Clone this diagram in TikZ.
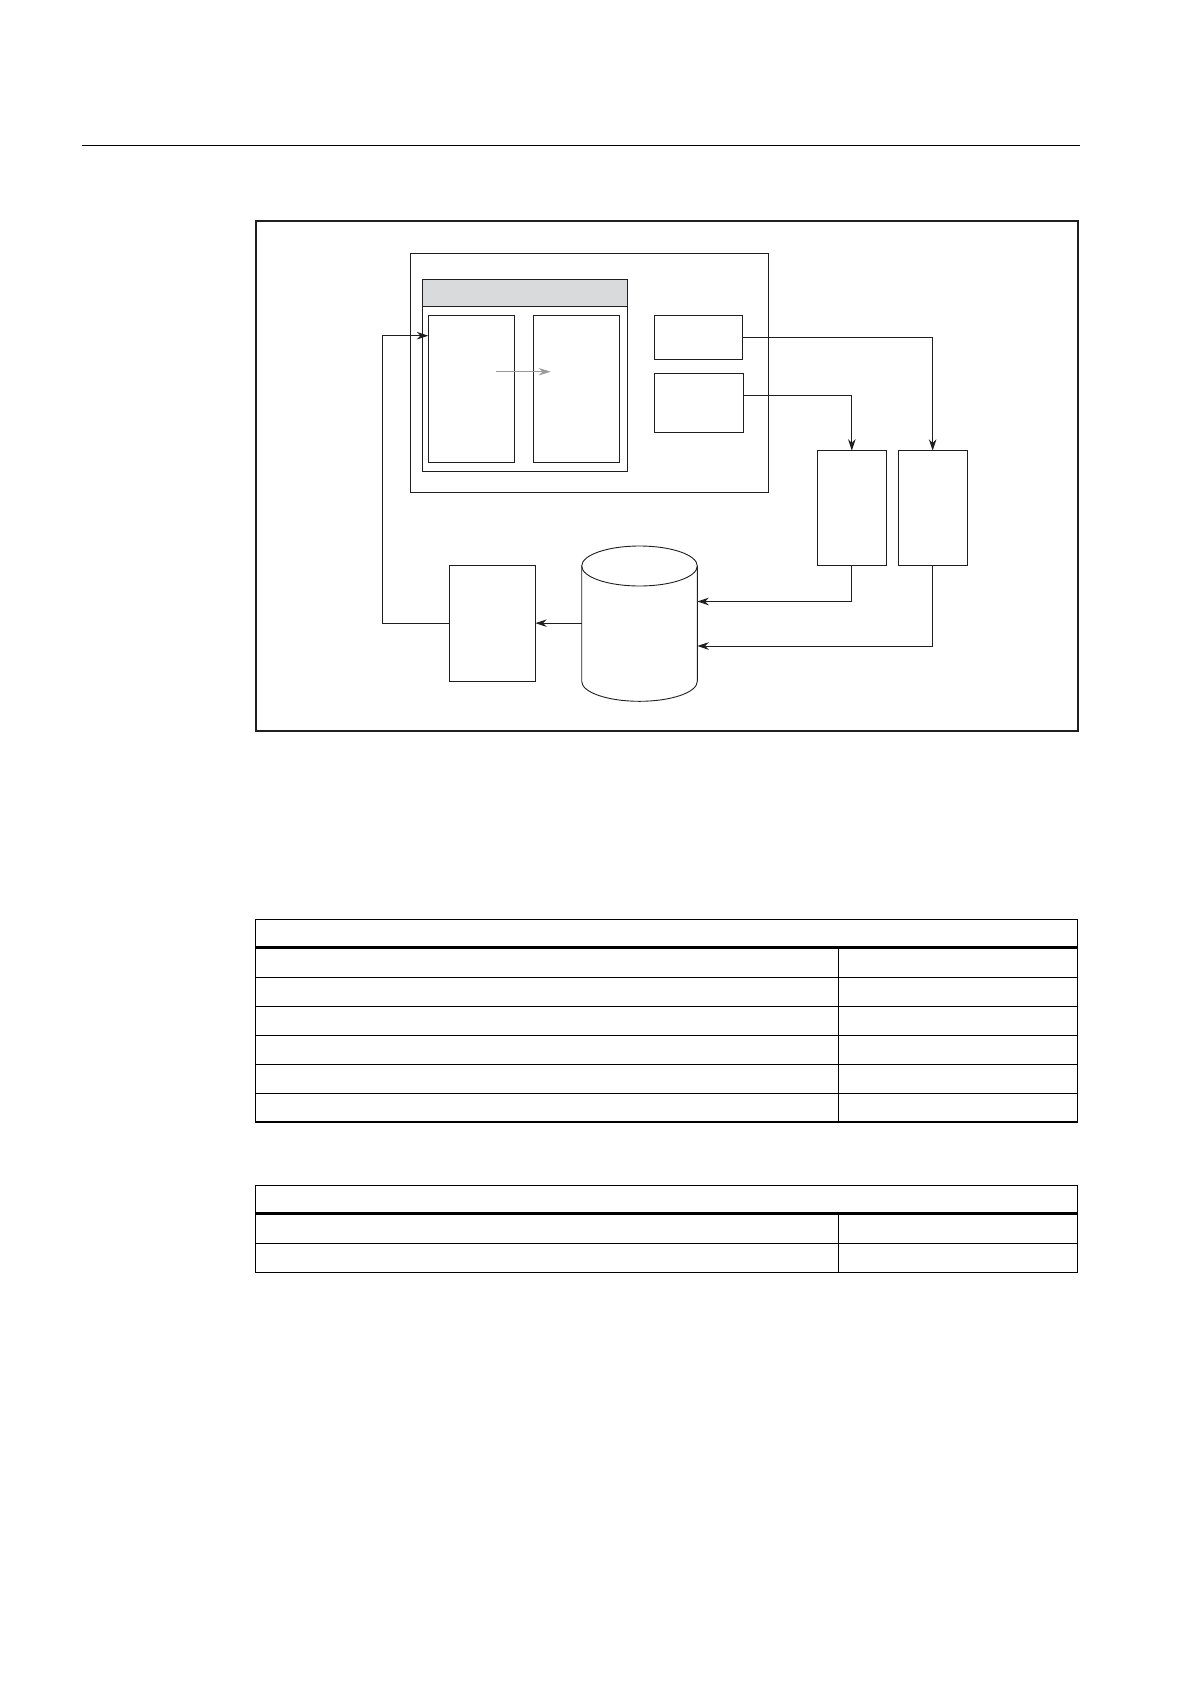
\documentclass[tikz,border=0pt]{standalone}
\usetikzlibrary{arrows.meta}
\definecolor{headgray}{HTML}{D9DADB}
\definecolor{arrowgray}{HTML}{9A9A9A}
\tikzset{
  box/.style={draw=black!88, line width=0.9pt, inner sep=0pt, outer sep=0pt, anchor=north west},
  conn/.style={draw=black!88, line width=0.9pt, -{Stealth[length=11.5pt,width=7.5pt]}},
  graycon/.style={draw=arrowgray, line width=0.9pt, -{Stealth[length=12pt,width=7.5pt]}},
  tabline/.style={line width=1.2pt},
  tabthick/.style={line width=3pt}
}
\begin{document}
\begin{tikzpicture}[x=1pt,y=-1pt]
\useasboundingbox (0,0) rectangle (1190,1684);
% top rule
\draw[line width=1.2pt] (82,145.3) -- (1080,145.3);
% outer frame
\node[box, line width=2pt, minimum width=822pt, minimum height=510pt] (frame) at (255.7,220.7) {};
% big container
\node[box, minimum width=358pt, minimum height=239pt] (big) at (410.3,253) {};
% inner container with gray header
\node[box, minimum width=205pt, minimum height=192pt] (inner) at (422.3,279.3) {};
\node[box, fill=headgray, minimum width=205pt, minimum height=27pt] (head) at (422.3,279.3) {};
% panels
\node[box, minimum width=86pt, minimum height=147pt] (lp) at (428.3,315.3) {};
\node[box, minimum width=86pt, minimum height=147pt] (rp) at (533.3,315.3) {};
% small boxes
\node[box, minimum width=88.7pt, minimum height=44.5pt] (s1) at (654,315.2) {};
\node[box, minimum width=89.7pt, minimum height=59.5pt] (s2) at (654,373.2) {};
% tall boxes
\node[box, minimum width=69pt, minimum height=115pt] (tA) at (817.3,450.7) {};
\node[box, minimum width=68.7pt, minimum height=115pt] (tB) at (898.3,450.7) {};
% left box
\node[box, minimum width=86.3pt, minimum height=115.7pt] (lb) at (449,565.3) {};
% database cylinder (body as named node)
\node[inner sep=0pt, outer sep=0pt, anchor=north west, minimum width=115.6pt, minimum height=115.3pt] (db) at (581.7,566) {};
\draw[line width=0.9pt, draw=black!88] (581.7,566) -- (581.7,681.3)
  .. controls (581.7,692.35) and (607.6,701.3) .. (639.5,701.3)
  .. controls (671.4,701.3) and (697.3,692.35) .. (697.3,681.3) -- (697.3,566);
\draw[line width=0.9pt, draw=black!88] (639.5,566) ellipse [x radius=57.8pt, y radius=20pt];
% helper coordinates
\coordinate (s2out) at (742.7,395.3);
\coordinate (dbinA) at (697.3,601.5);
\coordinate (dbinB) at (697.3,646);
\coordinate (fbcorner) at (382,335.7);
\coordinate (fbend) at (428.3,335.7);
\coordinate (gs) at (496,371.7);
\coordinate (ge) at (550.7,371.7);
% connectors
\draw[conn] (s1.east) -| (tB.north);
\draw[conn] (s2out) -| (tA.north);
\draw[conn] (tA.south) |- (dbinA);
\draw[conn] (tB.south) |- (dbinB);
\draw[conn] (db.west |- lb.east) -- (lb.east);
\draw[conn] (lb.west) -| (fbcorner) -- (fbend);
\draw[graycon] (gs) -- (ge);
% table 1
\draw[tabline] (255.3,919.3) rectangle (1077.3,1122);
\draw[tabthick] (255.3,947.3) -- (1077.3,947.3);
\foreach \yy in {977.3,1006.3,1035.3,1064.3,1093.3}
  \draw[tabline] (255.3,\yy) -- (1077.3,\yy);
\draw[tabline] (838.3,948.8) -- (838.3,1122);
% table 2
\draw[tabline] (255.3,1185.3) rectangle (1077.3,1272.3);
\draw[tabthick] (255.3,1213.3) -- (1077.3,1213.3);
\draw[tabline] (255.3,1243.3) -- (1077.3,1243.3);
\draw[tabline] (838.3,1214.8) -- (838.3,1272.3);
\end{tikzpicture}
\end{document}
